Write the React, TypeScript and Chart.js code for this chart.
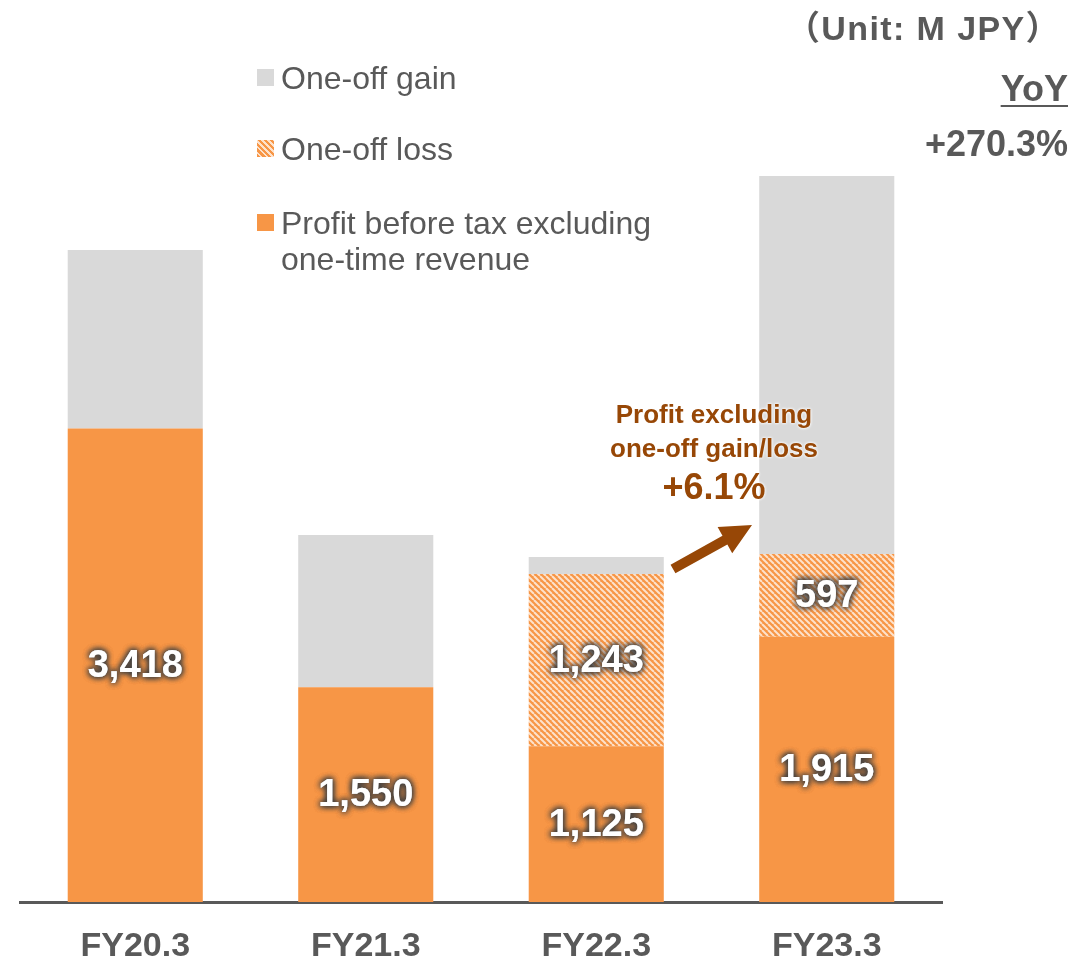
import React, { useEffect, useRef } from 'react';
import { Chart, registerables } from 'chart.js';

Chart.register(...registerables);

// ---- data ----
const categories = ['FY20.3', 'FY21.3', 'FY22.3', 'FY23.3'];
const profitExclOneTime = [3418, 1550, 1125, 1915];
const oneOffLoss = [null, null, 1243, 597];
const oneOffGain = [1290, 1100, 123, 2730];
const seriesNames = ['Profit before tax excluding one-time revenue', 'One-off loss', 'One-off gain'];
const unitText = '（Unit: M JPY）';
const yoyLabel = 'YoY';
const yoyValue = '+270.3%';
const noteLines = ['Profit excluding', 'one-off gain/loss'];
const noteValue = '+6.1%';

const ORANGE = '#F79646';
const GRAY = '#D9D9D9';
const TEXT = '#595959';
const BROWN = '#974706';
const FONT = '"Liberation Sans", Arial, "Noto Sans CJK JP", sans-serif';

function makeHatch(): CanvasPattern | string {
  const c = document.createElement('canvas');
  c.width = 6;
  c.height = 6;
  const g = c.getContext('2d');
  if (!g) return ORANGE;
  g.fillStyle = ORANGE;
  g.fillRect(0, 0, 6, 6);
  g.strokeStyle = '#FDE2CC';
  g.lineWidth = 2;
  for (const k of [-6, 0, 6]) {
    g.beginPath();
    g.moveTo(k, 0);
    g.lineTo(k + 6, 6);
    g.stroke();
  }
  const p = g.createPattern(c, 'repeat');
  return p || ORANGE;
}

const valueLabels = {
  id: 'valueLabels',
  afterDatasetsDraw(chart: any) {
    const ctx = chart.ctx;
    ctx.save();
    ctx.font = `bold 38px ${FONT}`;
    ctx.textAlign = 'center';
    ctx.textBaseline = 'middle';
    [0, 1].forEach((di) => {
      const meta = chart.getDatasetMeta(di);
      meta.data.forEach((el: any, i: number) => {
        const v = chart.data.datasets[di].data[i];
        if (v == null) return;
        const { x, y, base } = el.getProps(['x', 'y', 'base'], true);
        const cy = (y + base) / 2 + 1;
        const txt = Number(v).toLocaleString('en-US');
        ctx.shadowColor = 'rgba(64,64,64,1)';
        ctx.shadowBlur = 6;
        ctx.fillStyle = '#FFFFFF';
        for (let k = 0; k < 3; k++) ctx.fillText(txt, x, cy);
      });
    });
    ctx.restore();
  },
};

function Arrow() {
  const x1 = 673, y1 = 569, x2 = 752, y2 = 525;
  const dx = x2 - x1, dy = y2 - y1;
  const len = Math.hypot(dx, dy);
  const ux = dx / len, uy = dy / len;
  const nx = -uy, ny = ux;
  const sw = 5, hw = 15, hl = 31;
  const bx = x2 - ux * hl, by = y2 - uy * hl;
  const pts = [
    [x1 + nx * sw, y1 + ny * sw],
    [bx + nx * sw, by + ny * sw],
    [bx + nx * hw, by + ny * hw],
    [x2, y2],
    [bx - nx * hw, by - ny * hw],
    [bx - nx * sw, by - ny * sw],
    [x1 - nx * sw, y1 - ny * sw],
  ];
  return (
    <svg width={1070} height={961} style={{ position: 'absolute', left: 0, top: 0, pointerEvents: 'none' }}>
      <polygon points={pts.map((p) => p.join(',')).join(' ')} fill={BROWN} />
    </svg>
  );
}

export default function App() {
  const ref = useRef<HTMLCanvasElement | null>(null);

  useEffect(() => {
    if (!ref.current) return;
    const hatch = makeHatch();
    const chart = new Chart(ref.current, {
      type: 'bar',
      data: {
        labels: categories,
        datasets: [
          { label: seriesNames[0], data: profitExclOneTime, backgroundColor: ORANGE },
          { label: seriesNames[1], data: oneOffLoss as any, backgroundColor: hatch as any },
          { label: seriesNames[2], data: oneOffGain, backgroundColor: GRAY },
        ],
      },
      options: {
        responsive: false,
        animation: false,
        layout: { padding: { left: 20, right: 128, top: 71, bottom: 0 } },
        datasets: { bar: { barPercentage: 0.586, categoryPercentage: 1, borderWidth: 0 } },
        plugins: { legend: { display: false }, tooltip: { enabled: false } },
        scales: {
          x: {
            stacked: true,
            grid: { display: false, drawTicks: false },
            border: { display: true, color: TEXT, width: 3 },
            ticks: { color: TEXT, font: { family: FONT, size: 34, weight: 'bold' }, padding: 24 },
            afterFit: (s: any) => {
              s.height = 59;
            },
          },
          y: { stacked: true, display: false, min: 0, max: 6000 },
        },
      },
      plugins: [valueLabels],
    });
    return () => chart.destroy();
  }, []);

  const legendItems = [
    { name: seriesNames[2], swatch: GRAY, top: 60 },
    {
      name: seriesNames[1],
      swatch: `repeating-linear-gradient(45deg, ${ORANGE} 0px, ${ORANGE} 2.2px, #FDE2CC 2.2px, #FDE2CC 4.2px)`,
      top: 131,
    },
    { name: seriesNames[0], swatch: ORANGE, top: 205 },
  ];

  const abs = (o: React.CSSProperties): React.CSSProperties => ({ position: 'absolute', margin: 0, ...o });

  return (
    <div style={{ position: 'fixed', left: 0, top: 0, width: 1070, height: 961, background: '#fff', overflow: 'hidden', fontFamily: FONT }}>
      <canvas ref={ref} width={1070} height={961} style={{ position: 'absolute', left: 0, top: 0 }} />
      {legendItems.map((it) => (
        <div key={it.name}>
          <div style={abs({ left: 257, top: it.top + 9, width: 17, height: 17, background: it.swatch })} />
          <div style={abs({ left: 281, top: it.top, width: 400, fontSize: 32, lineHeight: '36px', color: TEXT })}>{it.name}</div>
        </div>
      ))}
      <div style={abs({ right: 9, top: 8, fontSize: 34, letterSpacing: '1.4px', lineHeight: '40px', fontWeight: 'bold', color: TEXT, whiteSpace: 'nowrap' })}>{unitText}</div>
      <div style={abs({ right: 2, top: 69, fontSize: 36, lineHeight: '40px', fontWeight: 'bold', color: TEXT, textDecoration: 'underline', textDecorationThickness: '2px', textUnderlineOffset: '4px' })}>{yoyLabel}</div>
      <div style={abs({ right: 2, top: 124, fontSize: 36, lineHeight: '40px', fontWeight: 'bold', color: TEXT })}>{yoyValue}</div>
      <div style={abs({ left: 564, width: 300, top: 397, textAlign: 'center', fontSize: 26, lineHeight: '34px', fontWeight: 'bold', color: BROWN, textShadow: '0 0 3px #fff, 0 0 3px #fff' })}>
        {noteLines.map((l) => (
          <div key={l}>{l}</div>
        ))}
      </div>
      <div style={abs({ left: 564, width: 300, top: 467, textAlign: 'center', fontSize: 36, lineHeight: '40px', fontWeight: 'bold', color: BROWN, textShadow: '0 0 3px #fff, 0 0 3px #fff' })}>{noteValue}</div>
      <Arrow />
    </div>
  );
}
